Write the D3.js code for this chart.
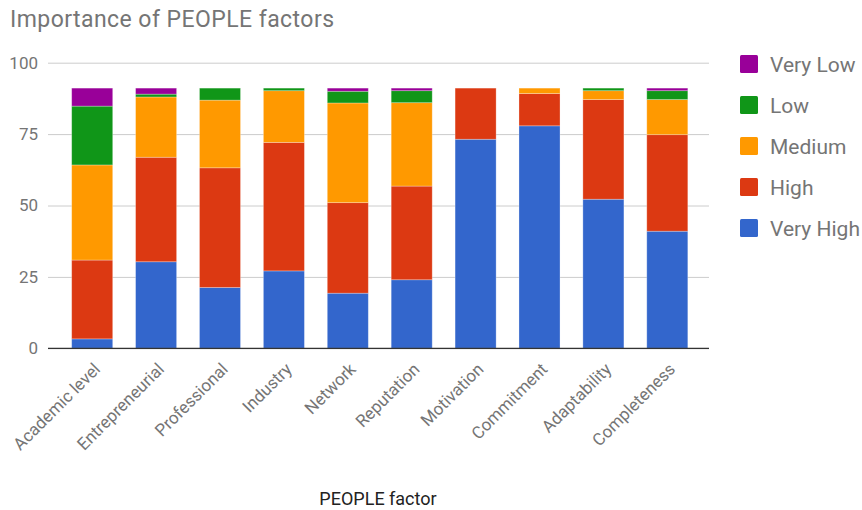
<!DOCTYPE html>
<html>
<head>
<meta charset="utf-8">
<script src="https://cdn.jsdelivr.net/npm/d3@7"></script>
<style>
  html, body { margin: 0; padding: 0; background: #fff; }
  svg { display: block; font-family: Roboto, "Noto Sans", Arial, sans-serif; }
</style>
</head>
<body>
<svg id="chart" width="862" height="510"></svg>
<script>
// Survey results: share of respondents rating each PEOPLE factor
const categories = ["Academic level", "Entrepreneurial", "Professional", "Industry", "Network",
  "Reputation", "Motivation", "Commitment", "Adaptability", "Completeness"];

const levels = ["Very High", "High", "Medium", "Low", "Very Low"];

const veryHigh = [3.3, 30.3, 21.3, 27.1, 19.3, 24.0, 73.2, 77.9, 52.2, 41.0];
const high     = [27.6, 36.6, 41.9, 45.0, 31.7, 32.8, 17.9, 11.3, 34.9, 33.8];
const medium   = [33.3, 21.1, 23.7, 18.1, 34.9, 29.2, 0.0, 1.9, 3.1, 12.3];
const low      = [20.6, 1.0, 4.2, 0.9, 4.1, 4.2, 0.0, 0.0, 0.9, 3.1];
const veryLow  = [6.3, 2.1, 0.0, 0.0, 1.1, 0.9, 0.0, 0.0, 0.0, 0.9];

const yTicks = [0, 25, 50, 75, 100];
const colors = ["#3366cc", "#dc3912", "#ff9900", "#109618", "#990099"];

const seriesValues = [veryHigh, high, medium, low, veryLow];
const rows = categories.map((c, i) => {
  const r = { category: c };
  levels.forEach((l, k) => { r[l] = seriesValues[k][i]; });
  return r;
});

const svg = d3.select("#chart");
const plot = { left: 48, right: 709, top: 62.7, bottom: 348.3 };

const x = d3.scaleBand()
  .domain(categories)
  .range([60.25, 699.25])
  .paddingInner(0.358)
  .paddingOuter(0.179);

const y = d3.scaleLinear().domain([0, 100]).range([plot.bottom, plot.top]);
const color = d3.scaleOrdinal().domain(levels).range(colors);

// Title
svg.append("text")
  .attr("x", 10).attr("y", 27)
  .attr("font-size", 23)
  .attr("fill", "#757575")
  .attr("textLength", 324)
  .attr("lengthAdjust", "spacing")
  .text("Importance of PEOPLE factors");

// Gridlines and y tick labels
const yAxis = d3.axisLeft(y).tickValues(yTicks)
  .tickSize(-(plot.right - plot.left)).tickPadding(10);
const gy = svg.append("g").attr("transform", `translate(${plot.left},0)`).call(yAxis);
gy.select(".domain").remove();
gy.selectAll(".tick line").attr("stroke", "#cccccc").attr("stroke-width", 1);
gy.selectAll(".tick text")
  .attr("font-size", 17).attr("fill", "#757575")
  .attr("font-family", "Roboto, 'Noto Sans', Arial, sans-serif");

// Stacked bars
const stacked = d3.stack().keys(levels)(rows);
const layer = svg.append("g").selectAll("g")
  .data(stacked)
  .join("g")
  .attr("fill", d => color(d.key));

layer.selectAll("rect")
  .data(d => d.filter(s => s[1] - s[0] > 0))
  .join("rect")
  .attr("x", d => x(d.data.category))
  .attr("width", x.bandwidth())
  .attr("y", d => y(d[1]))
  .attr("height", d => y(d[0]) - y(d[1]))
  .attr("stroke", "#ffffff")
  .attr("stroke-opacity", 0.35)
  .attr("stroke-width", 0.8);

// Baseline
svg.append("line")
  .attr("x1", plot.left).attr("x2", plot.right)
  .attr("y1", y(0)).attr("y2", y(0))
  .attr("stroke", "#333333").attr("stroke-width", 1.2);

// Category labels, rotated
const xAxis = d3.axisBottom(x).tickSize(0).tickPadding(0);
const gx = svg.append("g").attr("transform", `translate(0,${y(0)})`).call(xAxis);
gx.select(".domain").remove();
gx.selectAll(".tick text")
  .attr("font-size", 17).attr("fill", "#757575")
  .attr("font-family", "Roboto, 'Noto Sans', Arial, sans-serif")
  .attr("text-anchor", "end")
  .attr("dy", null)
  .attr("transform", "translate(9,22) rotate(-45)");

// Axis title
svg.append("text")
  .attr("x", 378).attr("y", 505)
  .attr("text-anchor", "middle")
  .attr("font-size", 18)
  .attr("fill", "#222222")
  .text("PEOPLE factor");

// Legend, top to bottom from Very Low to Very High
const legendItems = levels.slice().reverse();
const lg = svg.append("g").selectAll("g")
  .data(legendItems)
  .join("g")
  .attr("transform", (d, i) => `translate(740,${55 + i * 41})`);
lg.append("rect")
  .attr("width", 18).attr("height", 18).attr("rx", 1.5)
  .attr("fill", d => color(d));
lg.append("text")
  .attr("x", 30).attr("y", 9).attr("dy", "0.36em")
  .attr("font-size", 21).attr("fill", "#757575")
  .text(d => d);
</script>
</body>
</html>
